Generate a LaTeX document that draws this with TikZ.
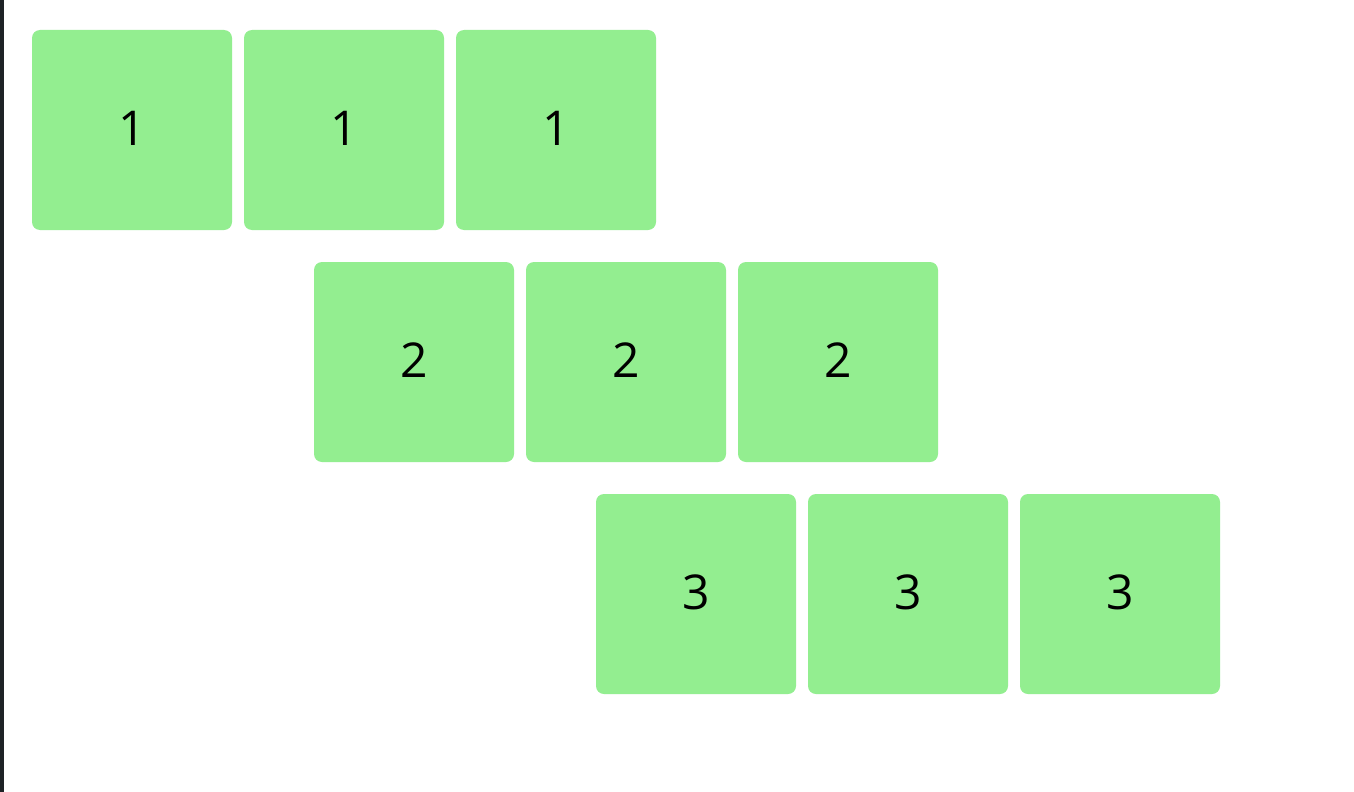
\documentclass[tikz,border=0pt]{standalone}
\usepackage{fontspec}
\setmainfont{Open Sans}
\definecolor{boxgreen}{HTML}{93EE90}
\definecolor{edgedark}{HTML}{1E2226}
\newcommand{\digitlabel}[1]{\raisebox{3.5pt}{#1}}
\begin{document}
\begin{tikzpicture}[x=1pt,y=-1pt,
  cell/.style={fill=boxgreen, rounded corners=8pt, minimum width=200pt, minimum height=200pt, inner sep=0pt, font=\fontsize{48}{48}\selectfont, text=black}]
\useasboundingbox (0,0) rectangle (1354,792);
\fill[white] (0,0) rectangle (1354,792);
\fill[edgedark] (0,0) rectangle (4,792);
% row 1
\node[cell] (a1) at (132,130) {\digitlabel{1}};
\node[cell] (a2) at (344,130) {\digitlabel{1}};
\node[cell] (a3) at (556,130) {\digitlabel{1}};
% row 2
\node[cell] (b1) at (414,362) {\digitlabel{2}};
\node[cell] (b2) at (626,362) {\digitlabel{2}};
\node[cell] (b3) at (838,362) {\digitlabel{2}};
% row 3
\node[cell] (c1) at (696,594) {\digitlabel{3}};
\node[cell] (c2) at (908,594) {\digitlabel{3}};
\node[cell] (c3) at (1120,594) {\digitlabel{3}};
\end{tikzpicture}
\end{document}
